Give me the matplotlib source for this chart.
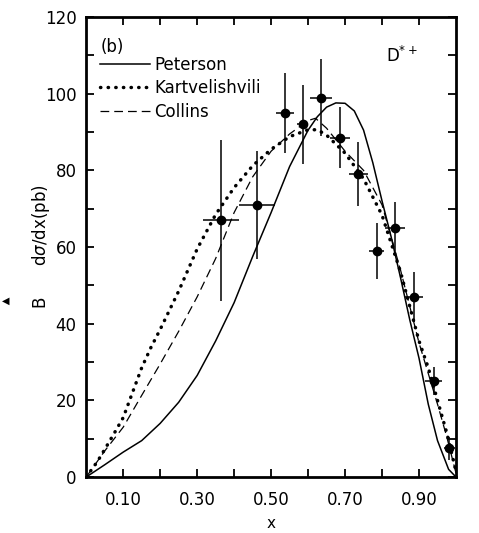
import matplotlib.pyplot as plt
import numpy as np

# measured points
x_data = [0.364, 0.462, 0.537, 0.585, 0.636, 0.686, 0.736, 0.786, 0.836, 0.887, 0.940, 0.982]
y_data = [67.0, 71.0, 95.0, 92.0, 99.0, 88.5, 79.0, 59.0, 65.0, 47.0, 25.0, 7.5]
x_err = [0.048, 0.048, 0.025, 0.015, 0.030, 0.027, 0.025, 0.020, 0.027, 0.024, 0.023, 0.015]
y_err = [21.0, 14.0, 10.5, 10.3, 10.0, 8.0, 8.3, 7.4, 6.8, 6.5, 3.7, 3.0]

# model curves
x_pet = [0.0, 0.05, 0.10, 0.15, 0.20, 0.25, 0.30, 0.35, 0.40, 0.45, 0.50, 0.55,
         0.60, 0.625, 0.65, 0.675, 0.70, 0.725, 0.75, 0.775, 0.80, 0.825, 0.85,
         0.875, 0.90, 0.925, 0.95, 0.98, 1.0]
peterson = [0.0, 3.2, 6.5, 9.5, 14.0, 19.5, 26.5, 35.5, 45.5, 57.5, 69.0, 81.0,
            90.5, 94.0, 96.5, 97.6, 97.5, 95.5, 90.5, 82.0, 72.0, 62.5, 52.0,
            41.0, 31.0, 19.0, 9.5, 2.0, 0.0]

x_kar = [0.0, 0.03, 0.05, 0.075, 0.10, 0.125, 0.15, 0.175, 0.20, 0.25, 0.30, 0.35,
         0.40, 0.45, 0.50, 0.55, 0.60, 0.625, 0.65, 0.70, 0.75, 0.80, 0.85, 0.875,
         0.90, 0.925, 0.95, 0.975, 1.0]
kartvel = [0.0, 4.0, 7.2, 11.3, 15.5, 22.0, 28.5, 33.8, 38.5, 48.5, 59.5, 68.5,
           75.5, 81.2, 85.5, 88.8, 90.6, 90.6, 89.2, 84.5, 77.8, 68.3, 53.5, 44.5,
           35.5, 28.5, 20.0, 11.5, 1.5]

x_col = [0.0, 0.05, 0.10, 0.15, 0.20, 0.25, 0.30, 0.35, 0.40, 0.45, 0.50, 0.55,
         0.60, 0.62, 0.65, 0.70, 0.75, 0.80, 0.85, 0.90, 0.95, 0.975, 1.0]
collins = [0.0, 6.8, 13.0, 21.3, 29.5, 38.0, 47.0, 57.0, 69.0, 78.3, 85.0, 89.5,
           93.0, 93.6, 91.0, 85.0, 80.0, 71.0, 54.0, 35.0, 19.0, 10.5, 1.0]

fig = plt.figure(figsize=(4.79, 5.33), dpi=100)
ax = fig.add_axes([0.180, 0.105, 0.772, 0.863])

ax.plot(x_pet, peterson, color='black', lw=1.1, ls='-', label='Peterson')
ax.plot(x_kar, kartvel, color='black', lw=2.5, ls=(0, (0.1, 2.1)), dash_capstyle='round',
        label='Kartvelishvili')
ax.plot(x_col, collins, color='black', lw=0.9, ls=(0, (7, 4)), label='Collins')

ax.errorbar(x_data, y_data, xerr=x_err, yerr=y_err, fmt='o', color='black',
            ms=6, elinewidth=1.1, capsize=0)

ax.set_xlim(0, 1.0)
ax.set_ylim(0, 120)
ax.set_xticks(np.arange(0.1, 1.0, 0.1))
ax.set_xticklabels(['0.10', '', '0.30', '', '0.50', '', '0.70', '', '0.90'])
ax.set_yticks(np.arange(0, 121, 10))
ax.set_yticklabels(['0', '', '20', '', '40', '', '60', '', '80', '', '100', '', '120'])
ax.tick_params(direction='in', length=6, width=1.3, top=True, right=True,
               labelsize=12, color='black')
ax.tick_params(axis='x', pad=10)
ax.tick_params(axis='y', pad=7)
for s in ax.spines.values():
    s.set_linewidth(2)

leg = ax.legend(loc='upper left', bbox_to_anchor=(0.0, 0.945), frameon=False,
                fontsize=12, handlelength=3.0, handletextpad=0.3, labelspacing=0.33,
                borderaxespad=0.4)

ax.text(0.04, 0.935, '(b)', transform=ax.transAxes, fontsize=12, va='center', ha='left')
ax.text(0.81, 0.915, r'D$^{*+}$', transform=ax.transAxes, fontsize=12, va='center', ha='left')

ax.set_ylabel(r'B      d$\sigma$/dx(pb)', fontsize=12, labelpad=-5)
ax.set_xlabel('x', fontsize=11, labelpad=5)
fig.text(0.012, 0.435, '\u25c0', fontsize=7, ha='center', va='center')

fig.savefig('out.png', dpi=100)
